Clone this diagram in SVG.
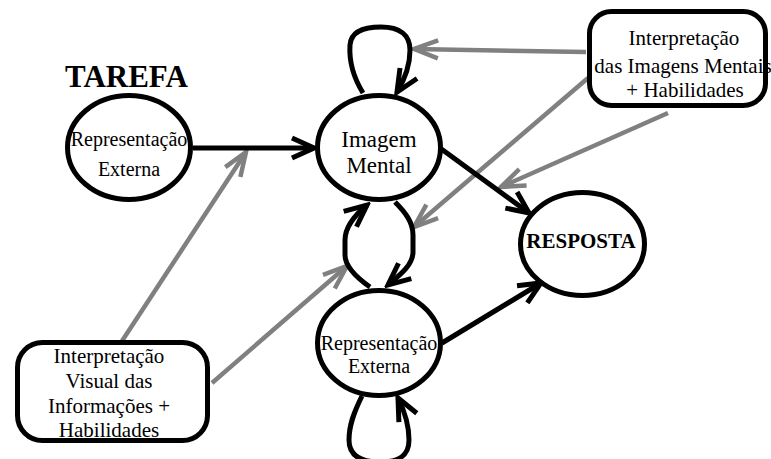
<svg xmlns="http://www.w3.org/2000/svg" width="771" height="459" viewBox="0 0 771 459">
<style>
text{font-family:"Liberation Serif","Times New Roman",serif;fill:#000;text-anchor:middle}
.node{fill:#fff;stroke:#000;stroke-width:5}
.blk{fill:none;stroke:#000;stroke-width:5}
.gry{fill:none;stroke:#808080;stroke-width:4.5}
.t20{font-size:20px}
.t21{font-size:21px}
.t23{font-size:23px}
.bold{font-weight:bold}
</style>
<defs>
<marker id="ab" markerUnits="userSpaceOnUse" markerWidth="32" markerHeight="32" viewBox="-28 -16 32 32" refX="0" refY="0" orient="auto">
<path d="M-22,-10 L0,0 L-22,10" fill="none" stroke="#000" stroke-width="5"/>
</marker>
<marker id="ag" markerUnits="userSpaceOnUse" markerWidth="32" markerHeight="32" viewBox="-28 -16 32 32" refX="0" refY="0" orient="auto">
<path d="M-24,-9 L0,0 L-24,9" fill="none" stroke="#808080" stroke-width="4.5"/>
</marker>
</defs>
<rect width="771" height="459" fill="#fff"/>

<g id="connectors">
<path class="gry" d="M586,52 L414,49" marker-end="url(#ag)"/>
<path class="gry" d="M588,78 L414,227" marker-end="url(#ag)"/>
<path class="gry" d="M668,113 L501,187" marker-end="url(#ag)"/>
<path class="gry" d="M122,341 L246,152" marker-end="url(#ag)"/>
<path class="gry" d="M212,383 L347,266" marker-end="url(#ag)"/>
<path class="blk" d="M193,148 L314,148" marker-end="url(#ab)"/>
<path class="blk" d="M440,148 L529,213" marker-end="url(#ab)"/>
<path class="blk" d="M442,343 L541,283" marker-end="url(#ab)"/>
<path class="blk" d="M363,93 C352,75 349,60 350,45 C351,31 365,27 381,27 C400,27 410,35 410,50 C410,65 405,79 397,92" marker-end="url(#ab)"/>
<path class="blk" d="M370,287 C360,280 345,268 345,255 L345,240 C345,228 355,215 367,205" marker-end="url(#ab)"/>
<path class="blk" d="M395,202 C405,212 413,222 413,235 L413,252 C413,265 400,275 388,285" marker-end="url(#ab)"/>
<path class="blk" d="M362,396 C354,412 349,425 349,440 C349,455 360,462 380,462 C400,462 409,455 409,440 C409,425 404,410 398,398" marker-end="url(#ab)"/>
</g>

<g id="tarefa">
<text x="65" y="87" style="text-anchor:start;font-size:31px;font-weight:bold">TAREFA</text>
</g>

<g id="rep-externa-1">
<ellipse class="node" cx="129" cy="147.5" rx="61.5" ry="52"/>
<text class="t20" x="129" y="146">Representação</text>
<text class="t20" x="129" y="176">Externa</text>
</g>

<g id="imagem-mental">
<ellipse class="node" cx="379" cy="147.5" rx="61.5" ry="52"/>
<text class="t23" x="379" y="147">Imagem</text>
<text class="t23" x="379" y="173">Mental</text>
</g>

<g id="rep-externa-2">
<ellipse class="node" cx="379" cy="343" rx="61.5" ry="52.5"/>
<text class="t20" x="379" y="350">Representação</text>
<text class="t20" x="379" y="373">Externa</text>
</g>

<g id="resposta">
<ellipse class="node" cx="582.5" cy="244" rx="62" ry="51.5"/>
<text class="t21 bold" x="581" y="248">RESPOSTA</text>
</g>

<g id="interp-imagens">
<rect x="589.5" y="11.5" width="176" height="94" rx="22" fill="#fff"/>
<text class="t21" x="684" y="45">Interpretação</text>
<text class="t21" x="683" y="73">das Imagens Mentais</text>
<text class="t21" x="685" y="97">+ Habilidades</text>
<rect x="589.5" y="11.5" width="176" height="94" rx="22" fill="none" stroke="#000" stroke-width="5"/>
</g>

<g id="interp-visual">
<rect class="node" x="17.5" y="342.5" width="190" height="98" rx="25"/>
<text class="t21" x="109" y="363">Interpretação</text>
<text class="t21" x="109" y="388">Visual das</text>
<text class="t21" x="109" y="413">Informações +</text>
<text class="t21" x="109" y="437">Habilidades</text>
</g>
</svg>
